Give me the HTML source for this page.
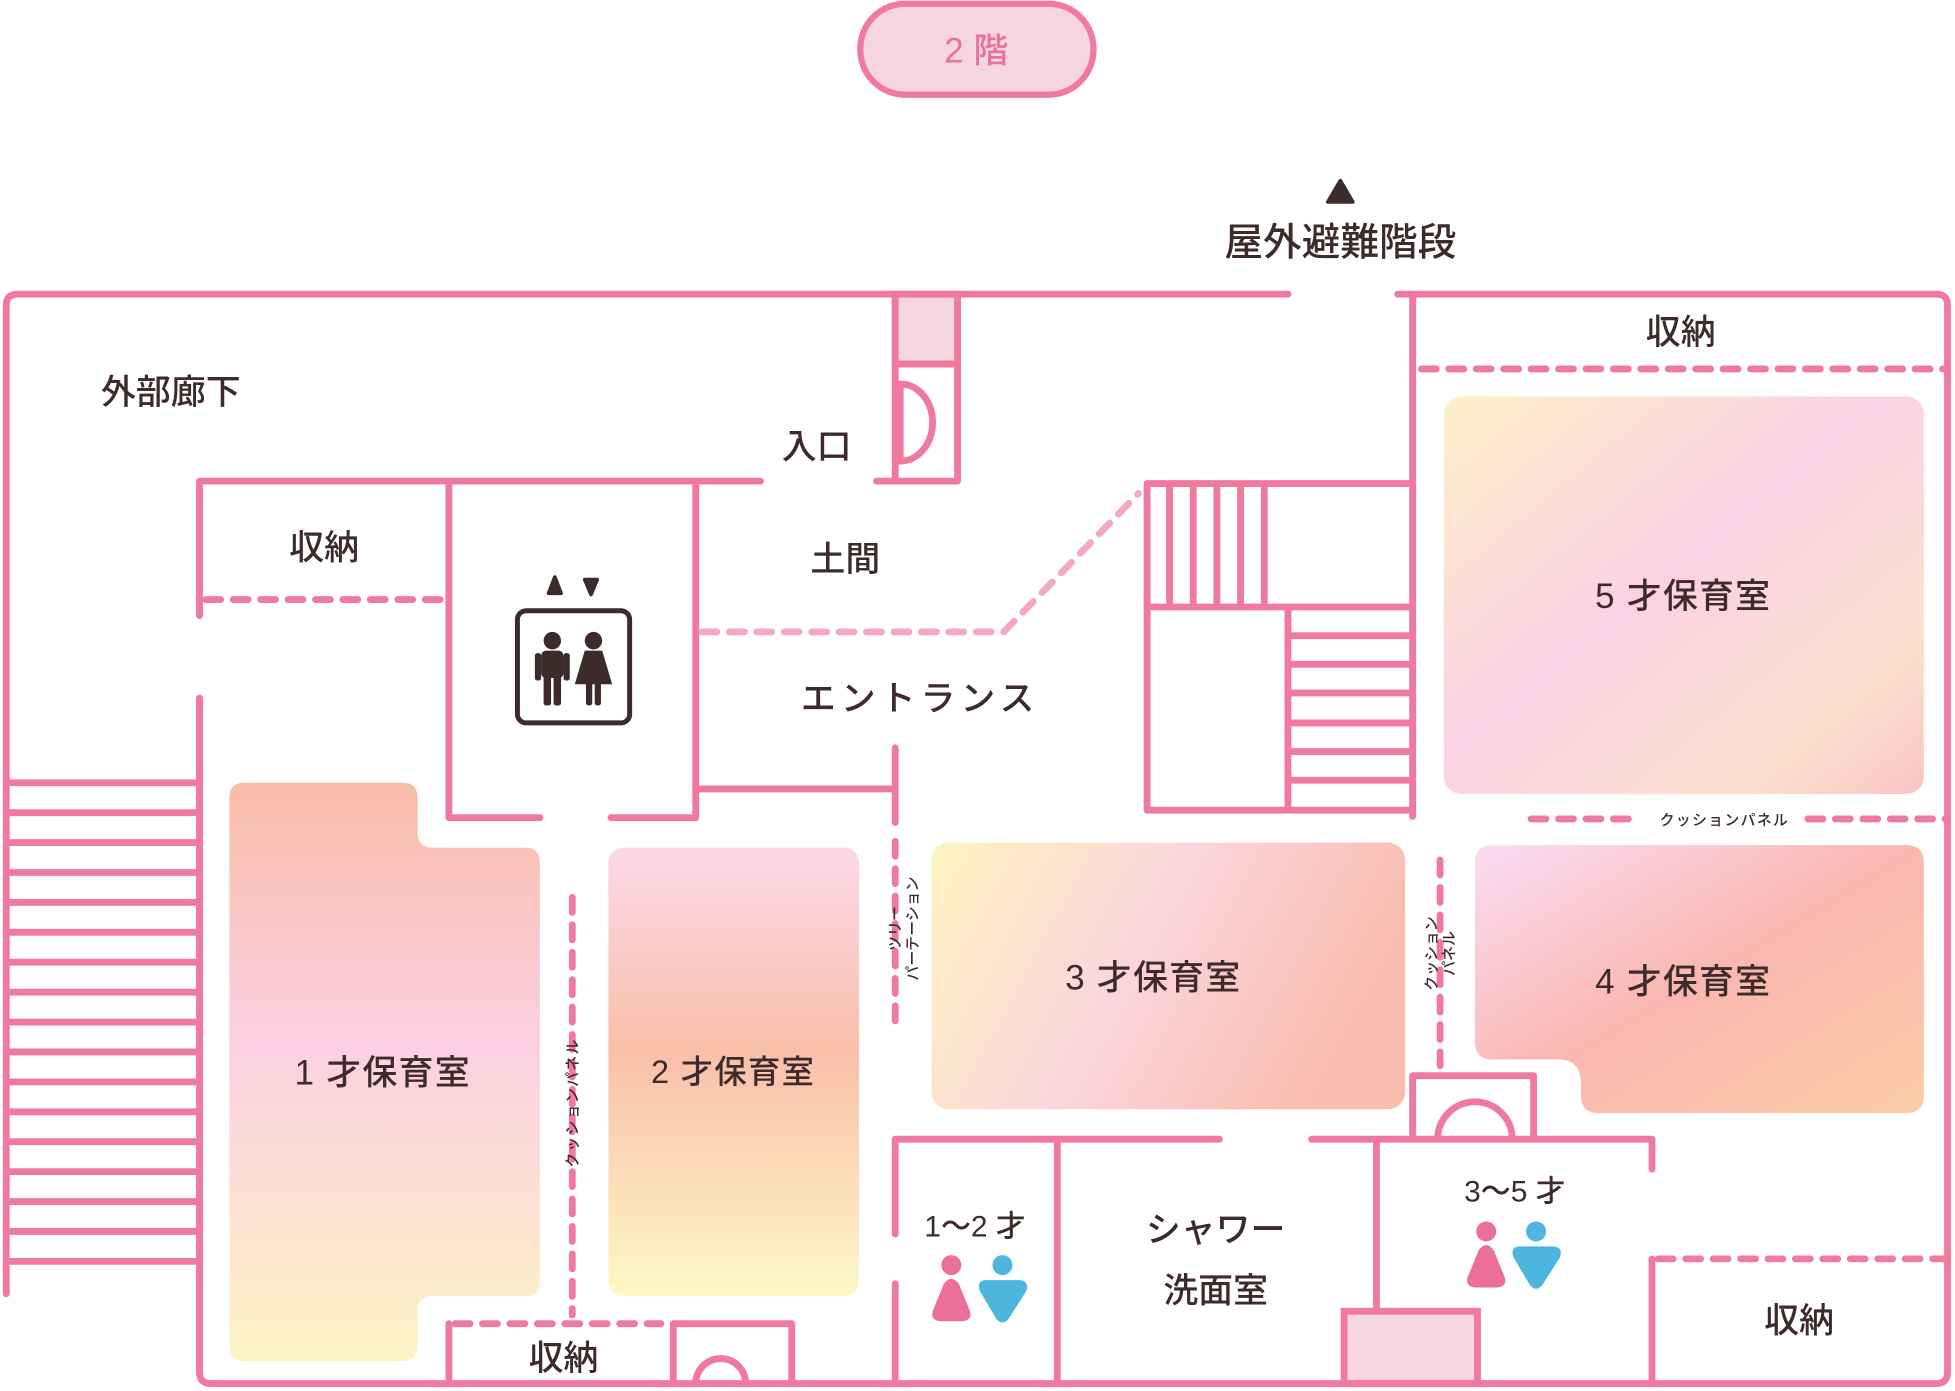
<!DOCTYPE html>
<html><head><meta charset="utf-8"><style>
html,body{margin:0;padding:0;background:#fff;}
svg{display:block;}
text{font-family:"Liberation Sans","Noto Sans CJK JP",sans-serif;fill:#3d2b2b;font-weight:500;}
</style></head><body>
<svg width="1955" height="1391" viewBox="0 0 1568 1116" preserveAspectRatio="none" xmlns="http://www.w3.org/2000/svg">
<defs>
<linearGradient id="g1b" x1="0" y1="0" x2="0" y2="1"><stop offset="0" stop-color="#f9bca8"/><stop offset="0.45" stop-color="#fbd0e2"/><stop offset="1" stop-color="#fdf3c4"/></linearGradient>
<linearGradient id="g2" x1="0" y1="0" x2="0" y2="1"><stop offset="0" stop-color="#fcd8e8"/><stop offset="0.45" stop-color="#f9bfaa"/><stop offset="1" stop-color="#fdf8c8"/></linearGradient>
<linearGradient id="g3" x1="0" y1="0" x2="1" y2="0.3"><stop offset="0" stop-color="#fdf4c0"/><stop offset="0.5" stop-color="#fbd6dc"/><stop offset="1" stop-color="#f9bcb0"/></linearGradient>
<linearGradient id="g4" x1="0" y1="0" x2="1" y2="1"><stop offset="0" stop-color="#fbdcf4"/><stop offset="0.5" stop-color="#f9b7b0"/><stop offset="1" stop-color="#fbcca8"/></linearGradient>
<linearGradient id="g5" x1="0" y1="0" x2="1" y2="1"><stop offset="0" stop-color="#fdf0c8"/><stop offset="0.45" stop-color="#fbd2e4"/><stop offset="0.8" stop-color="#fce0d0"/><stop offset="1" stop-color="#f9c4c4"/></linearGradient>
</defs>

<rect x="690" y="3" width="187" height="73" rx="36" fill="#f5d6e0" stroke="#f07a9e" stroke-width="5"/>
<text x="783" y="50" font-size="28" text-anchor="middle" style="fill:#e8729a">2 階</text>

<polygon points="1075,145 1065,162 1085,162" fill="#3d2b2b" stroke="#3d2b2b" stroke-width="3" stroke-linejoin="round"/>
<text x="1075" y="205" font-size="31" text-anchor="middle">屋外避難階段</text>

<path d="M196,628 H323 Q335,628 335,640 V668 Q335,680 347,680 H421 Q433,680 433,692 V1028 Q433,1040 421,1040 H347 Q335,1040 335,1052 V1080 Q335,1092 323,1092 H196 Q184,1092 184,1080 V640 Q184,628 196,628Z" fill="url(#g1b)"/>
<rect x="488" y="680" width="201" height="360" rx="12" fill="url(#g2)"/>
<rect x="747" y="676" width="380" height="214" rx="14" fill="url(#g3)"/>
<path d="M1197,678 H1529 Q1543,678 1543,692 V879 Q1543,893 1529,893 H1282 Q1268,893 1268,879 V870 Q1268,850 1250,850 H1197 Q1183,850 1183,836 V692 Q1183,678 1197,678Z" fill="url(#g4)"/>
<rect x="1158" y="318" width="385" height="319" rx="14" fill="url(#g5)"/>

<g fill="none" stroke="#f07a9e" stroke-width="5.5" stroke-linecap="round" stroke-linejoin="round">
<path d="M1033,236 H14 Q5,236 5,245 V1038"/>
<path d="M1121,236 H1553 Q1562,236 1562,245 V1101 Q1562,1110 1553,1110 H169 Q160,1110 160,1101 V560"/>
<path d="M160,494 V386 H610"/>
<path d="M703,386 H768 V236 M718,236 V386 M718,292 H768"/>
<path d="M722,308 V370 A26,31 0 0 0 722,308"/>
<path d="M5,628 H160 M5,652 H160 M5,676 H160 M5,700 H160 M5,724 H160 M5,748 H160 M5,772 H160 M5,796 H160 M5,820 H160 M5,844 H160 M5,868 H160 M5,892 H160 M5,916 H160 M5,940 H160 M5,964 H160 M5,988 H160 M5,1012 H160"/>
<path d="M360,386 V656 H433 M490,656 H558 V386"/>
<path d="M558,633 H718 M718,600 V660"/>
<path d="M920,388 H1133 M920,388 V650 H1033 V487 M920,487 H1133 M938,388 V487 M957,388 V487 M976,388 V487 M995,388 V487 M1014,388 V487"/>
<path d="M1033,510 H1133 M1033,533 H1133 M1033,556 H1133 M1033,580 H1133 M1033,603 H1133 M1033,626 H1133 M1033,650 H1133"/>
<path d="M1133,236 V655"/>
<path d="M360,1110 V1062 M540,1110 V1062 H635 V1110"/>
<path d="M558,1110 A20,20 0 0 1 598,1110"/>
<path d="M718,990 V914 H978 M1052,914 H1325 V938 M718,1030 V1110 M848,914 V1110 M1104,914 V1052"/>
<path d="M1133,914 V863 H1230 V914 M1153,914 A30,30 0 0 1 1213,914"/>
<path d="M1325,1110 V1010"/>
</g>
<rect x="718" y="236" width="50" height="56" fill="#f5d6e0" stroke="#f07a9e" stroke-width="5.5"/>
<rect x="1078" y="1052" width="107" height="58" fill="#f5d6e0" stroke="#f07a9e" stroke-width="5.5"/>

<g fill="none" stroke="#f07a9e" stroke-width="5.5" stroke-linecap="round" stroke-dasharray="12 10">
<path d="M165,481 H355"/>
<path d="M1140,296 H1562"/>
<path d="M1228,657 H1310 M1450,657 H1562"/>
<path d="M1155,690 V855"/>
<path d="M459,720 V1055"/>
<path d="M718,675 V825"/>
<path d="M365,1062 H530"/>
<path d="M1330,1010 H1562"/>
</g>
<path d="M563,507 H805 L913,396" fill="none" stroke="#f4a9c0" stroke-width="5.5" stroke-linecap="round" stroke-dasharray="12 10"/>

<rect x="415" y="490" width="90" height="90" rx="7" fill="none" stroke="#3d2b2b" stroke-width="4"/>
<polygon points="445,463 440,476 450,476" fill="#3d2b2b" stroke="#3d2b2b" stroke-width="3" stroke-linejoin="round"/>
<polygon points="469,465 479,465 474,477" fill="#3d2b2b" stroke="#3d2b2b" stroke-width="3" stroke-linejoin="round"/>
<g fill="#3d2b2b">
<circle cx="443" cy="514" r="7"/><rect x="434" y="522" width="18" height="22" rx="4"/><rect x="429" y="524" width="5" height="22" rx="2"/><rect x="452" y="524" width="5" height="22" rx="2"/><rect x="436" y="540" width="6" height="26" rx="2"/><rect x="444" y="540" width="6" height="26" rx="2"/>
<circle cx="476" cy="514" r="7"/><path d="M469,522 H483 L491,549 H461Z"/><rect x="470" y="546" width="5" height="20" rx="2"/><rect x="477" y="546" width="5" height="20" rx="2"/>
</g>

<g>
<circle cx="763" cy="1015" r="8" fill="#ec6f97"/><path d="M757,1030 Q763,1022 769,1030 L778,1052 Q780,1060 770,1060 H756 Q746,1060 748,1052Z" fill="#ec6f97"/>
<circle cx="804" cy="1015" r="8" fill="#4cb6df"/><path d="M790,1027 H818 Q826,1028 823,1036 L809,1058 Q804,1064 799,1058 L786,1036 Q783,1028 790,1027Z" fill="#4cb6df"/>
<circle cx="1192" cy="988" r="8" fill="#ec6f97"/><path d="M1186,1003 Q1192,995 1198,1003 L1207,1025 Q1209,1033 1199,1033 H1185 Q1175,1033 1177,1025Z" fill="#ec6f97"/>
<circle cx="1232" cy="988" r="8" fill="#4cb6df"/><path d="M1218,1000 H1246 Q1254,1001 1251,1009 L1237,1031 Q1232,1037 1227,1031 L1214,1009 Q1211,1001 1218,1000Z" fill="#4cb6df"/>
</g>

<g font-size="28" text-anchor="middle">
<text x="137" y="324">外部廊下</text>
<text x="655" y="368">入口</text>
<text x="260" y="449">収納</text>
<text x="678" y="458">土間</text>
<text x="738" y="570" letter-spacing="4">エントランス</text>
<text x="1348" y="276">収納</text>
<text x="1350" y="488" letter-spacing="1">5 才保育室</text>
<text x="1350" y="797" letter-spacing="1">4 才保育室</text>
<text x="925" y="794" letter-spacing="1">3 才保育室</text>
<text x="307" y="870" letter-spacing="1">1 才保育室</text>
<text x="588" y="869" font-size="26" letter-spacing="1">2 才保育室</text>
<text x="452" y="1099">収納</text>
<text x="1443" y="1069">収納</text>
<text x="975" y="996">シャワー</text>
<text x="975" y="1045">洗面室</text>
<text x="782" y="992" font-size="24">1〜2 才</text>
<text x="1215" y="964" font-size="24">3〜5 才</text>
</g>
<g font-size="12" text-anchor="middle">
<text x="1383" y="662" letter-spacing="1">クッションパネル</text>
<text transform="translate(463,885) rotate(-90)" letter-spacing="1">クッションパネル</text>
<text transform="translate(722,745) rotate(-90)">ツリー</text>
<text transform="translate(736,745) rotate(-90)">パーテーション</text>
<text transform="translate(1152,765) rotate(-90)">クッション</text>
<text transform="translate(1166,765) rotate(-90)">パネル</text>
</g>
</svg>
</body></html>
